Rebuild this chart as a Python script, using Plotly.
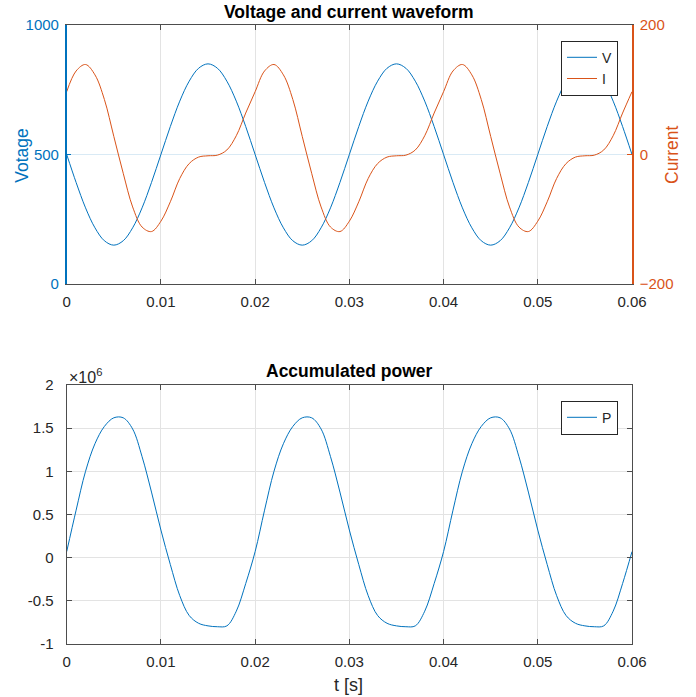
import plotly.graph_objects as go

# Sample times in milliseconds (0 .. 60 ms, 1 ms step)
t_ms = [0, 1, 2, 3, 4, 5, 6, 7, 8, 9, 10, 11, 12, 13, 14, 15, 16, 17, 18, 19,
        20, 21, 22, 23, 24, 25, 26, 27, 28, 29, 30, 31, 32, 33, 34, 35, 36, 37, 38, 39,
        40, 41, 42, 43, 44, 45, 46, 47, 48, 49, 50, 51, 52, 53, 54, 55, 56, 57, 58, 59,
        60]

# Voltage [V]
voltage = [500, 392, 294, 217, 167, 150, 167, 217, 294, 392,
           500, 608, 706, 783, 833, 850, 833, 783, 706, 608,
           500, 392, 294, 217, 167, 150, 167, 217, 294, 392,
           500, 608, 706, 783, 833, 850, 833, 783, 706, 608,
           500, 392, 294, 217, 167, 150, 167, 217, 294, 392,
           500, 608, 706, 783, 833, 850, 833, 783, 706, 608,
           500]

# Current [A]
current = [97, 129, 139, 123, 85, 28, -29, -81, -112, -119,
           -103, -73, -37, -14, -4, -2, -1, 7, 29, 64,
           97, 129, 139, 123, 85, 28, -29, -81, -112, -119,
           -103, -73, -37, -14, -4, -2, -1, 7, 29, 64,
           97, 129, 139, 123, 85, 28, -29, -81, -112, -119,
           -103, -73, -37, -14, -4, -2, -1, 7, 29, 64,
           97]

# Accumulated power, in units of 1e6
power_e6 = [0.07, 0.55, 1.00, 1.32, 1.52, 1.62, 1.62, 1.49, 1.17, 0.76,
            0.32, -0.08, -0.44, -0.67, -0.76, -0.79, -0.80, -0.79, -0.62, -0.30,
            0.07, 0.55, 1.00, 1.32, 1.52, 1.62, 1.62, 1.49, 1.17, 0.76,
            0.32, -0.08, -0.44, -0.67, -0.76, -0.79, -0.80, -0.79, -0.62, -0.30,
            0.07, 0.55, 1.00, 1.32, 1.52, 1.62, 1.62, 1.49, 1.17, 0.76,
            0.32, -0.08, -0.44, -0.67, -0.76, -0.79, -0.80, -0.79, -0.62, -0.30,
            0.07]

x_ticks = [0, 0.01, 0.02, 0.03, 0.04, 0.05, 0.06]
x_tick_text = ["0", "0.01", "0.02", "0.03", "0.04", "0.05", "0.06"]
v_ticks = [0, 500, 1000]
i_ticks = [-200, 0, 200]
p_ticks = [-1, -0.5, 0, 0.5, 1, 1.5, 2]
p_tick_text = ["-1", "-0.5", "0", "0.5", "1", "1.5", "2"]

t = [v / 1000 for v in t_ms]
power = [v * 1e6 for v in power_e6]

BLUE = "#0072BD"
ORANGE = "#D95319"
AXIS = "#4d4d4d"
GRID = "#e3e3e3"
TEXT = "#262626"
FONT = "Liberation Sans, Arial, sans-serif"
W, H = 696, 697

fig = go.Figure()
fig.add_trace(go.Scatter(x=t, y=voltage, name="V", mode="lines",
                         line=dict(color=BLUE, width=1, shape="spline"),
                         xaxis="x", yaxis="y", legend="legend"))
fig.add_trace(go.Scatter(x=t, y=current, name="I", mode="lines",
                         line=dict(color=ORANGE, width=1, shape="spline"),
                         xaxis="x", yaxis="y2", legend="legend"))
fig.add_trace(go.Scatter(x=t, y=power, name="P", mode="lines",
                         line=dict(color=BLUE, width=1, shape="spline"),
                         xaxis="x2", yaxis="y3", legend="legend2"))

x_dom = [66.7 / W, 632 / W]
top_dom = [(H - 284) / H, (H - 25) / H]
bot_dom = [(H - 644) / H, (H - 385) / H]

tickfont = dict(family=FONT, size=15, color=TEXT)
common_x = dict(domain=x_dom, range=[0, 0.06], tickvals=x_ticks, ticktext=x_tick_text,
                showline=True, linecolor=AXIS, linewidth=1, mirror="ticks",
                ticks="inside", ticklen=5, tickcolor=AXIS, ticklabelstandoff=4,
                showgrid=True, gridcolor=GRID, zeroline=False, tickfont=tickfont)

legend_style = dict(x=618 / W, xanchor="right", yanchor="top",
                    bgcolor="white", bordercolor=TEXT, borderwidth=1,
                    font=dict(family=FONT, size=14, color=TEXT),
                    tracegroupgap=0, itemwidth=30)

fig.update_layout(
    width=W, height=H,
    margin=dict(l=0, r=0, t=0, b=0, autoexpand=False),
    paper_bgcolor="white", plot_bgcolor="white",
    font=dict(family=FONT, color=TEXT),
    showlegend=True,
    xaxis=dict(anchor="y", **common_x),
    xaxis2=dict(anchor="y3", **common_x),
    yaxis=dict(domain=top_dom, range=[0, 1000], tickvals=v_ticks,
               showline=True, linecolor=BLUE, linewidth=1.5,
               ticks="inside", ticklen=5, tickcolor=BLUE, ticklabelstandoff=3,
               tickfont=dict(family=FONT, size=15, color=BLUE),
               showgrid=True, gridcolor="rgba(0,114,189,0.15)", zeroline=False),
    yaxis2=dict(overlaying="y", side="right", anchor="x", range=[-200, 200],
                tickvals=i_ticks,
                showline=True, linecolor=ORANGE, linewidth=1.5,
                ticks="inside", ticklen=5, tickcolor=ORANGE, ticklabelstandoff=3,
                tickfont=dict(family=FONT, size=15, color=ORANGE),
                showgrid=False, zeroline=False),
    yaxis3=dict(domain=bot_dom, anchor="x2", range=[-1e6, 2e6],
                tickvals=[v * 1e6 for v in p_ticks], ticktext=p_tick_text,
                showline=True, linecolor=AXIS, linewidth=1, mirror="ticks",
                ticks="inside", ticklen=5, tickcolor=AXIS, ticklabelstandoff=9,
                tickfont=tickfont,
                showgrid=True, gridcolor=GRID, zeroline=False),
    legend=dict(y=(H - 40.7) / H, **legend_style),
    legend2=dict(y=(H - 400.7) / H, **legend_style),
)

ann = [
    dict(text="<b>Voltage and current waveform</b>", x=349.4 / W, y=(H - 12) / H,
         font=dict(size=17.5, color="black")),
    dict(text="<b>Accumulated power</b>", x=349.4 / W, y=(H - 371) / H,
         font=dict(size=17.5, color="black")),
    dict(text="Votage", x=21.7 / W, y=(H - 155) / H, textangle=-90,
         font=dict(size=17.5, color=BLUE)),
    dict(text="Current", x=672 / W, y=(H - 155) / H, textangle=-90,
         font=dict(size=17.5, color=ORANGE)),
    dict(text="t [s]", x=349 / W, y=(H - 685) / H,
         font=dict(size=18, color=TEXT)),
    dict(text="\u00d710<sup>6</sup>", x=67 / W, y=(H - 376) / H, xanchor="left",
         font=dict(size=16, color=TEXT)),
]
for a in ann:
    a.setdefault("xanchor", "center")
    fig.add_annotation(xref="paper", yref="paper", showarrow=False,
                       yanchor="middle", font_family=FONT, **a)

fig.write_html("out.html")
